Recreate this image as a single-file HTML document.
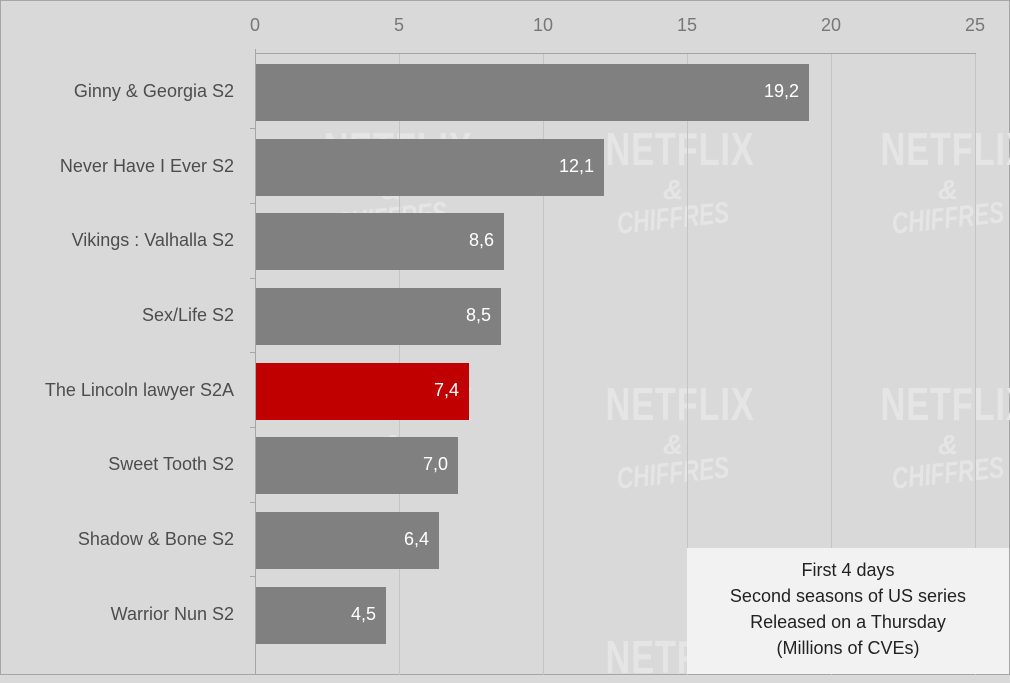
<!DOCTYPE html>
<html><head><style>
body{margin:0;width:1010px;height:675px;overflow:hidden;background:#d9d9d9;font-family:"Liberation Sans",sans-serif;}
.wrap{position:absolute;left:0;top:0;width:1008px;height:673px;border:1px solid #a6a6a6;background:#d9d9d9;}
.wm{position:absolute;color:#e5e5e5;font-weight:bold;text-align:center;line-height:1;}
.wm .n{font-size:46px;letter-spacing:1px;transform:scaleX(0.75);display:block;}
.wm .a{font-size:28px;font-style:italic;display:block;margin-top:4px;}
.wm .c{font-size:30px;font-style:italic;display:block;transform:rotate(-6deg) scaleX(0.75);}
.lab{position:absolute;right:775px;font-size:18px;color:#4d4d4d;text-align:right;white-space:nowrap;}
.bar{position:absolute;left:255px;height:57px;background:#808080;}
.val{position:absolute;font-size:18px;color:#fff;text-align:right;}
.tick{position:absolute;top:14px;font-size:18px;color:#777;width:40px;text-align:center;}
.grid{position:absolute;top:52px;width:1px;height:622px;background:#c4c4c4;}
.yt{position:absolute;left:249px;width:6px;height:1px;background:#a6a6a6;}
</style></head><body><div class="wrap">
<div class="wm" style="left:300px;top:125px;width:180px"><span class="n">NETFLIX</span><span class="a">&amp;</span><span class="c">CHIFFRES</span></div>
<div class="wm" style="left:582px;top:125px;width:180px"><span class="n">NETFLIX</span><span class="a">&amp;</span><span class="c">CHIFFRES</span></div>
<div class="wm" style="left:857px;top:125px;width:180px"><span class="n">NETFLIX</span><span class="a">&amp;</span><span class="c">CHIFFRES</span></div>
<div class="wm" style="left:300px;top:380px;width:180px"><span class="n">NETFLIX</span><span class="a">&amp;</span><span class="c">CHIFFRES</span></div>
<div class="wm" style="left:582px;top:380px;width:180px"><span class="n">NETFLIX</span><span class="a">&amp;</span><span class="c">CHIFFRES</span></div>
<div class="wm" style="left:857px;top:380px;width:180px"><span class="n">NETFLIX</span><span class="a">&amp;</span><span class="c">CHIFFRES</span></div>
<div class="wm" style="left:582px;top:633px;width:180px"><span class="n">NETFLIX</span></div>
<div class="grid" style="left:398px"></div><div class="grid" style="left:542px"></div><div class="grid" style="left:686px"></div><div class="grid" style="left:830px"></div><div class="grid" style="left:974px"></div>
<div style="position:absolute;left:254px;top:52px;width:721px;height:1px;background:#a6a6a6"></div>
<div style="position:absolute;left:254px;top:48px;width:1px;height:626px;background:#a6a6a6"></div>
<div class="yt" style="top:127px"></div><div class="yt" style="top:202px"></div><div class="yt" style="top:277px"></div><div class="yt" style="top:351px"></div><div class="yt" style="top:426px"></div><div class="yt" style="top:501px"></div><div class="yt" style="top:575px"></div>
<div class="tick" style="left:234px">0</div><div class="tick" style="left:378px">5</div><div class="tick" style="left:522px">10</div><div class="tick" style="left:666px">15</div><div class="tick" style="left:810px">20</div><div class="tick" style="left:954px">25</div>

<div class="bar" style="top:63px;width:553px"></div><div class="lab" style="top:80px">Ginny &amp; Georgia S2</div><div class="val" style="top:80px;left:740px;width:58px">19,2</div>
<div class="bar" style="top:138px;width:348px"></div><div class="lab" style="top:155px">Never Have I Ever S2</div><div class="val" style="top:155px;left:535px;width:58px">12,1</div>
<div class="bar" style="top:212px;width:248px"></div><div class="lab" style="top:229px">Vikings : Valhalla S2</div><div class="val" style="top:229px;left:435px;width:58px">8,6</div>
<div class="bar" style="top:287px;width:245px"></div><div class="lab" style="top:304px">Sex/Life S2</div><div class="val" style="top:304px;left:432px;width:58px">8,5</div>
<div class="bar" style="top:362px;width:213px;background:#c00000"></div><div class="lab" style="top:379px">The Lincoln lawyer S2A</div><div class="val" style="top:379px;left:400px;width:58px">7,4</div>
<div class="bar" style="top:436px;width:202px"></div><div class="lab" style="top:453px">Sweet Tooth S2</div><div class="val" style="top:453px;left:389px;width:58px">7,0</div>
<div class="bar" style="top:511px;width:183px"></div><div class="lab" style="top:528px">Shadow &amp; Bone S2</div><div class="val" style="top:528px;left:370px;width:58px">6,4</div>
<div class="bar" style="top:586px;width:130px"></div><div class="lab" style="top:603px">Warrior Nun S2</div><div class="val" style="top:603px;left:317px;width:58px">4,5</div>

<div style="position:absolute;left:686px;top:547px;width:322px;height:126px;background:#f2f2f2;color:#222;font-size:18px;line-height:26px;text-align:center;padding-top:9px;box-sizing:border-box">First 4 days<br>Second seasons of US series<br>Released on a Thursday<br>(Millions of CVEs)</div>
</div></body></html>
